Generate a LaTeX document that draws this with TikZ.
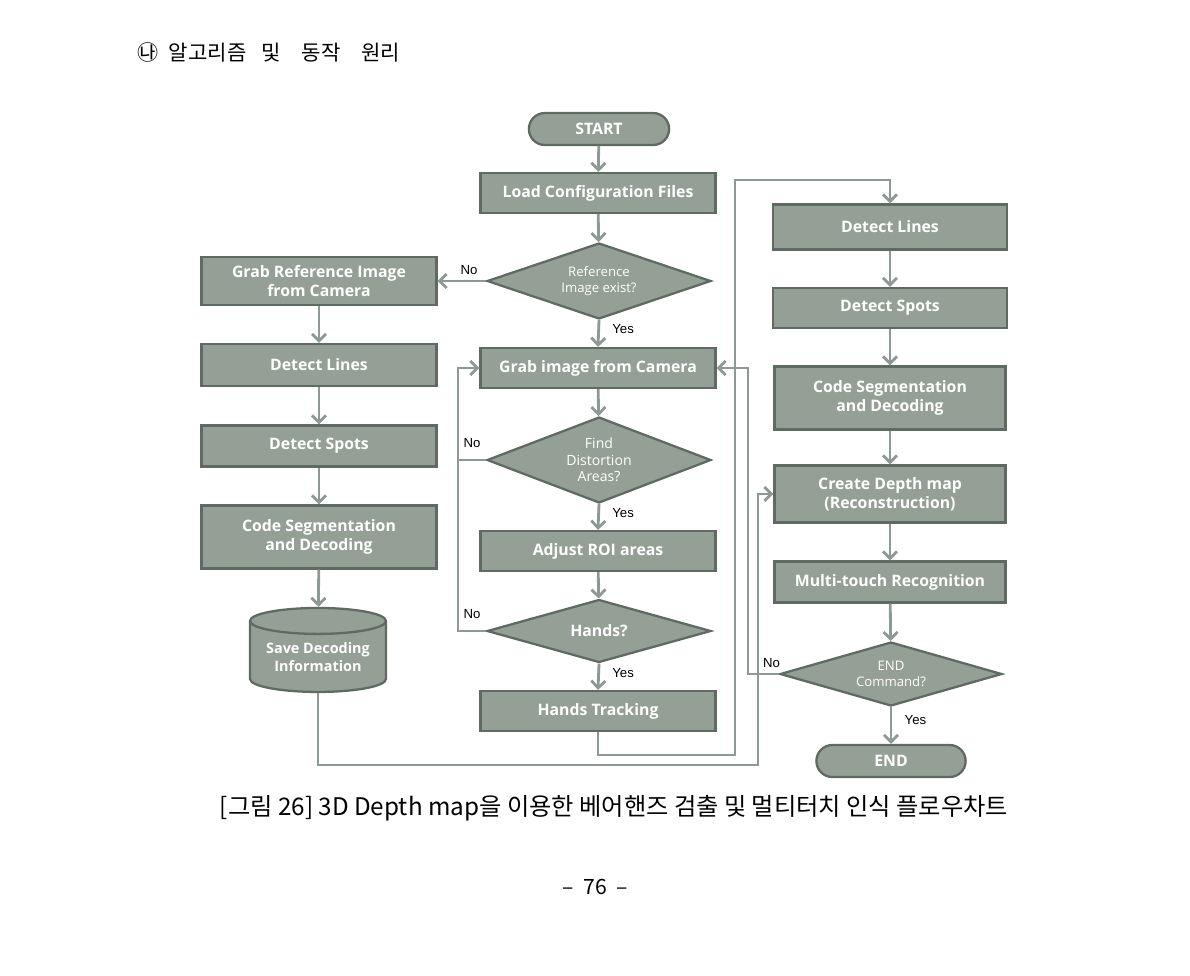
\documentclass[tikz,border=0pt]{standalone}
\usepackage{fontspec}
\setmainfont{Open Sans}
\newfontfamily\kfont{Noto Sans CJK KR}
\newfontfamily\lblfont{Liberation Sans}
\usetikzlibrary{shapes.geometric,shapes.misc,arrows.meta,positioning}
\definecolor{boxfill}{HTML}{949F95}
\definecolor{boxline}{HTML}{5F6A63}
\definecolor{flowline}{HTML}{8D9994}
\tikzset{
  proc/.style={draw=boxline,line width=1.3pt,fill=boxfill,text=white,font=\fontsize{9}{11}\selectfont\bfseries,align=center,minimum width=4.7cm,minimum height=0.8cm,inner sep=1pt},
  decide/.style={diamond,aspect=3,draw=boxline,line width=1.3pt,fill=boxfill,text=white,font=\fontsize{7.5}{9}\selectfont,align=center,inner sep=0pt,minimum width=4.48cm},
  term/.style={rounded rectangle,draw=boxline,line width=1.3pt,fill=boxfill,text=white,font=\fontsize{9}{11}\selectfont\bfseries,minimum height=0.64cm},
  store/.style={cylinder,shape border rotate=90,aspect=0.25,draw=boxline,line width=1.3pt,fill=boxfill,text=white,font=\fontsize{8.2}{10}\selectfont\bfseries,align=center,minimum width=2.72cm,minimum height=1.68cm,inner sep=0pt},
  flow/.style={draw=flowline,line width=1.6pt,-{Straight Barb[length=4pt,width=8pt]}},
  backline/.style={draw=flowline,line width=1.6pt},
  yn/.style={font=\lblfont\fontsize{7.5}{9}\selectfont,text=black,inner sep=1pt}
}
\begin{document}
\begin{tikzpicture}[x=0.02cm,y=-0.02cm]
\useasboundingbox (0,0) rectangle (1190,975);
% heading, caption, page number
\node[anchor=west,font=\kfont\fontsize{12}{14}\selectfont] (title) at (131,52) {㉯\hspace{0.5em}알고리즘\hspace{0.7em}및\hspace{1em}동작\hspace{1em}원리};
\node[font=\kfont\fontsize{13.8}{16}\selectfont] (caption) at (614,808) {[그림 26] 3D Depth map을 이용한 베어핸즈 검출 및 멀티터치 인식 플로우차트};
\node[font=\kfont\fontsize{12}{14}\selectfont] (pageno) at (595,887) {–\ \ 76\ \ –};

% middle column
\node[term,minimum width=3.04cm] (start) at (599,129) {START};
\node[proc] (load) at (598,193) {Load Configuration Files};
\node[decide,minimum height=1.52cm] (refq) at (599,281) {Reference\\Image exist?};
\node[proc] (grabimg) at (598,368) {Grab image from Camera};
\node[decide,minimum height=1.72cm,font=\fontsize{8}{9.5}\selectfont] (distq) at (599,460) {Find\\Distortion\\Areas?};
\node[proc] (roi) at (598,551) {Adjust ROI areas};
\node[decide,minimum height=1.26cm,font=\fontsize{9}{11}\selectfont\bfseries] (handq) at (599,631) {Hands?};
\node[proc] (track) at (598,711) {Hands Tracking};

% left column
\node[proc,minimum height=0.96cm] (grabref) at (319,281) {Grab Reference Image\\from Camera};
\node[proc,minimum height=0.84cm] (ldetl) at (319,365) {Detect Lines};
\node[proc,minimum height=0.82cm] (ldets) at (319,446) {Detect Spots};
\node[proc,minimum height=1.26cm] (lcode) at (319,537) {Code Segmentation\\and Decoding};
\node[store] (save) at (318,657) {Save Decoding\\Information};

% right column
\node[proc,minimum width=4.68cm,minimum height=0.9cm] (rdetl) at (890,227) {Detect Lines};
\node[proc,minimum width=4.68cm] (rdets) at (890,308) {Detect Spots};
\node[proc,minimum width=4.62cm,minimum height=1.26cm] (rcode) at (890,398) {Code Segmentation\\and Decoding};
\node[proc,minimum width=4.62cm,minimum height=1.14cm] (depth) at (890,494) {Create Depth map\\(Reconstruction)};
\node[proc,minimum width=4.62cm,minimum height=0.82cm] (multi) at (890,582) {Multi-touch Recognition};
\node[decide,minimum width=4.44cm,minimum height=1.28cm] (endq) at (891,674) {END\\Command?};
\node[term,minimum width=3.22cm] (end) at (891,761) {END};

% corners of the return lines
\coordinate (jdist) at (458,460);
\coordinate (jloop) at (458,368);
\coordinate (jtr1) at (735,755);
\coordinate (jtr2) at (735,180);
\coordinate (jsv1) at (758,765);
\coordinate (jend) at (748,368);

% connectors
\draw[flow] (start) -- (load);
\draw[flow] (load) -- (refq);
\draw[flow] (refq.west) -- node[yn,pos=0.35,above=2pt] (no1) {No} (grabref.east);
\draw[flow] (refq.south) -- node[yn,pos=0.35,right=6pt] (yes1) {Yes} (grabimg.north);
\draw[flow] (grabref) -- (ldetl);
\draw[flow] (ldetl) -- (ldets);
\draw[flow] (ldets) -- (lcode);
\draw[flow] (lcode) -- (save);
\draw[flow] (grabimg) -- (distq);
\draw[flow] (distq.south) -- node[yn,pos=0.35,right=6pt] (yes2) {Yes} (roi.north);
\draw[flow] (roi) -- (handq);
\draw[flow] (handq.south) -- node[yn,pos=0.35,right=6pt] (yes3) {Yes} (track.north);
\draw[backline] (distq.west) -- node[yn,above=5pt] (no2) {No} (jdist);
\draw[flow] (handq.west) -| node[yn,pos=0.25,above=5pt] (no3) {No} (jloop) -- (grabimg.west);
\draw[flow] (track.south) |- (jtr1) -- (jtr2) -| (rdetl.north);
\draw[flow] (save.south) |- (jsv1) |- (depth.west);
\draw[flow] (rdetl) -- (rdets);
\draw[flow] (rdets) -- (rcode);
\draw[flow] (rcode) -- (depth);
\draw[flow] (depth) -- (multi);
\draw[flow] (multi) -- (endq);
\draw[flow] (endq.south) -- node[yn,pos=0.35,right=6pt] (yes4) {Yes} (end.north);
\draw[flow] (endq.west) -| node[yn,pos=0.12,above=2pt] (no4) {No} (jend) -- (grabimg.east);
\end{tikzpicture}
\end{document}
